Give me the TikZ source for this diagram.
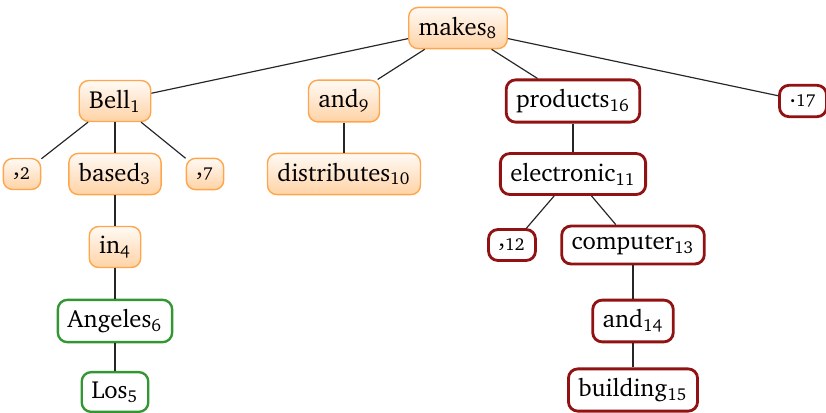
\documentclass[tikz,border=0pt]{standalone}
\usepackage[T1]{fontenc}
\renewcommand{\rmdefault}{bch}
\usepackage{tikz}
\definecolor{headred}{RGB}{145,18,18}
\definecolor{namegreen}{RGB}{50,150,50}
\newcommand{\tok}[2]{#1\textsubscript{#2}}

\begin{document}
\begin{tikzpicture}[x=0.4255pt,y=-0.4255pt,line width=.5pt,
  wordbox/.style={rounded corners=4pt,inner xsep=4.2pt,inner ysep=4pt,font=\fontsize{10.5}{12}\selectfont},
  core/.style={wordbox,draw=orange!70,line width=.6pt,top color=orange!4,bottom color=orange!35},
  phrase/.style={wordbox,draw=headred,line width=1.2pt,fill=white},
  propn/.style={wordbox,draw=namegreen,line width=1pt,fill=white},
  dep/.style={draw=black!85,line width=.5pt}]
\path[use as bounding box] (0,0) rectangle (826,413);
% level 0
\node[core] (makes) at (458,28) {\tok{makes}{8}};
% level 1
\node[core] (bell) at (115,101) {\tok{Bell}{1}};
\node[core] (and) at (344,101) {\tok{and}{9}};
\node[phrase] (products) at (573,101) {\tok{products}{16}};
\node[phrase] (stop) at (803,101) {\tok{.}{17}};
% level 2
\node[core] (comma2) at (22,174) {\tok{,}{2}};
\node[core] (based) at (115,174) {\tok{based}{3}};
\node[core] (comma7) at (205,174) {\tok{,}{7}};
\node[core] (distributes) at (344,174) {\tok{distributes}{10}};
\node[phrase] (electronic) at (573,174) {\tok{electronic}{11}};
% level 3
\node[core] (in) at (115,247) {\tok{in}{4}};
\node[phrase] (comma12) at (512,245) {\tok{,}{12}};
\node[phrase] (computer) at (633,245) {\tok{computer}{13}};
% level 4
\node[propn] (angeles) at (115,321) {\tok{Angeles}{6}};
\node[phrase] (andb) at (633,321) {\tok{and}{14}};
% level 5
\node[propn] (los) at (115,392) {\tok{Los}{5}};
\node[phrase] (building) at (633,390) {\tok{building}{15}};
% dependencies
\draw[dep] (makes) -- (bell);
\draw[dep] (makes) -- (and);
\draw[dep] (makes) -- (products);
\draw[dep] (makes) -- (stop);
\draw[dep] (bell) -- (comma2);
\draw[dep] (bell) -- (based);
\draw[dep] (bell) -- (comma7);
\draw[dep] (and) -- (distributes);
\draw[dep] (products) -- (electronic);
\draw[dep] (based) -- (in);
\draw[dep] (electronic) -- (comma12);
\draw[dep] (electronic) -- (computer);
\draw[dep] (in) -- (angeles);
\draw[dep] (computer) -- (andb);
\draw[dep] (angeles) -- (los);
\draw[dep] (andb) -- (building);
\end{tikzpicture}
\end{document}
